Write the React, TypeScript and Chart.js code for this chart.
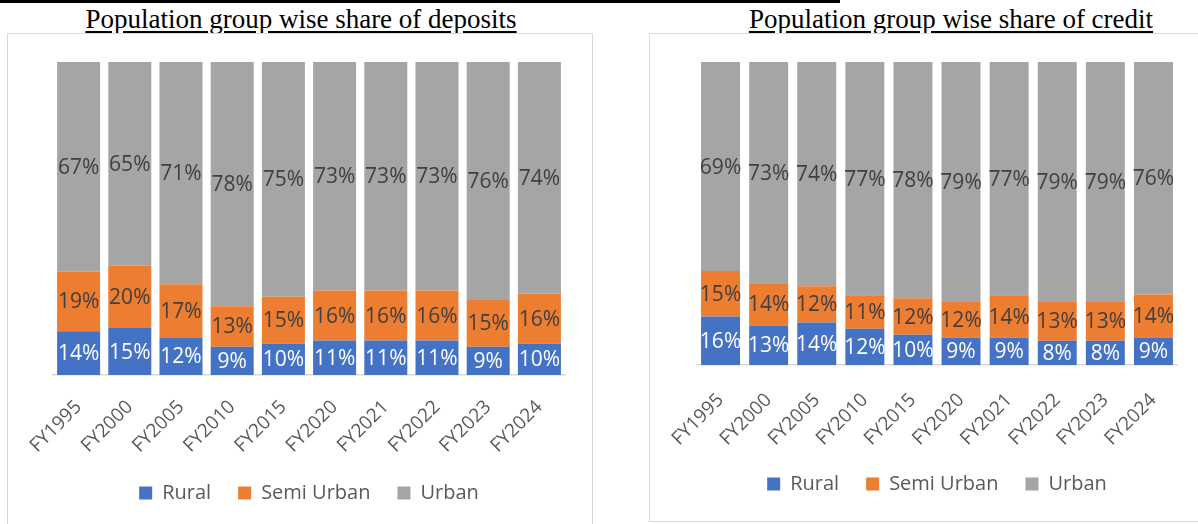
import React, { useEffect, useRef } from "react";
import { Chart, registerables } from "chart.js";

Chart.register(...registerables);

const categories = ["FY1995", "FY2000", "FY2005", "FY2010", "FY2015", "FY2020", "FY2021", "FY2022", "FY2023", "FY2024"];
const seriesNames = ["Rural", "Semi Urban", "Urban"];

const depositRural = [14, 15, 12, 9, 10, 11, 11, 11, 9, 10];
const depositSemiUrban = [19, 20, 17, 13, 15, 16, 16, 16, 15, 16];
const depositUrban = [67, 65, 71, 78, 75, 73, 73, 73, 76, 74];

const creditRural = [16, 13, 14, 12, 10, 9, 9, 8, 8, 9];
const creditSemiUrban = [15, 14, 12, 11, 12, 12, 14, 13, 13, 14];
const creditUrban = [69, 73, 74, 77, 78, 79, 77, 79, 79, 76];

const COLORS = ["#4472C4", "#ED7D31", "#A5A5A5"];
const LABEL_COLORS = ["#FFFFFF", "#404040", "#404040"];
const FONT = "'Open Sans', 'Noto Sans', sans-serif";

const labelPlugin = {
  id: "segLabels",
  afterDatasetsDraw(chart: any) {
    const ctx = chart.ctx;
    ctx.save();
    ctx.font = `21px ${FONT}`;
    ctx.textAlign = "center";
    ctx.textBaseline = "middle";
    chart.data.datasets.forEach((ds: any, di: number) => {
      const meta = chart.getDatasetMeta(di);
      meta.data.forEach((el: any, i: number) => {
        const raw = ds.rawValues[i];
        const cy = (el.y + el.base) / 2;
        ctx.fillStyle = LABEL_COLORS[di];
        ctx.fillText(`${raw}%`, el.x, cy + 1);
      });
    });
    ctx.restore();
  },
};

function buildConfig(series: number[][], barPct: number, padding: any, axisHeight: number, tickPad: number) {
  const totals = categories.map((_, i) => series.reduce((s, arr) => s + arr[i], 0));
  return {
    type: "bar",
    data: {
      labels: categories,
      datasets: series.map((arr, di) => ({
        label: seriesNames[di],
        data: arr.map((v, i) => (v / totals[i]) * 100),
        rawValues: arr,
        backgroundColor: COLORS[di],
        borderWidth: 0,
        barPercentage: barPct,
        categoryPercentage: 1,
      })),
    },
    options: {
      animation: false,
      responsive: false,
      maintainAspectRatio: false,
      layout: { padding },
      plugins: {
        title: { display: false },
        tooltip: { enabled: false },
        legend: {
          position: "bottom",
          labels: {
            boxWidth: 13,
            boxHeight: 13,
            padding: 27,
            color: "#595959",
            font: { family: FONT, size: 20 },
          },
        },
      },
      scales: {
        x: {
          stacked: true,
          grid: { display: false, drawTicks: false },
          border: { display: true, color: "#D9D9D9", width: 1.5 },
          ticks: {
            color: "#595959",
            font: { family: FONT, size: 19 },
            minRotation: 45,
            maxRotation: 45,
            padding: tickPad,
          },
          afterFit(scale: any) {
            scale.height = axisHeight;
          },
        },
        y: {
          stacked: true,
          display: false,
          min: 0,
          max: 100,
        },
      },
    },
    plugins: [labelPlugin],
  };
}

function ChartBox(props: {
  left: number;
  top: number;
  width: number;
  height: number;
  series: number[][];
  barPct: number;
  padding: any;
  axisHeight: number;
  tickPad: number;
}) {
  const ref = useRef<HTMLCanvasElement>(null);
  useEffect(() => {
    if (!ref.current) return;
    const chart = new Chart(
      ref.current,
      buildConfig(props.series, props.barPct, props.padding, props.axisHeight, props.tickPad) as any
    );
    return () => chart.destroy();
  }, []);
  return (
    <div
      style={{
        position: "absolute",
        left: props.left,
        top: props.top,
        width: props.width,
        height: props.height,
        boxSizing: "border-box",
        border: "1.5px solid #D9D9D9",
        background: "#fff",
      }}
    >
      <canvas
        ref={ref}
        width={props.width}
        height={props.height}
        style={{ position: "absolute", left: -1.5, top: -1.5, width: props.width, height: props.height }}
      />
    </div>
  );
}

const titleStyle: React.CSSProperties = {
  position: "absolute",
  top: 4,
  fontFamily: "'Liberation Serif', 'Times New Roman', serif",
  fontSize: 27,
  lineHeight: "30px",
  textDecoration: "underline",
  textUnderlineOffset: 3,
  color: "#000",
  whiteSpace: "nowrap",
  transform: "translateX(-50%)",
};

export default function App() {
  return (
    <div style={{ position: "fixed", left: 0, top: 0, width: 1198, height: 524, overflow: "hidden", background: "#fff" }}>
      <div style={{ position: "absolute", left: 0, top: 0, width: 840, height: 3, background: "#000" }} />
      <div style={{ ...titleStyle, left: 301 }}>Population group wise share of deposits</div>
      <div style={{ ...titleStyle, left: 951 }}>Population group wise share of credit</div>
      <ChartBox
        left={7}
        top={33}
        width={586}
        height={510}
        series={[depositRural, depositSemiUrban, depositUrban]}
        barPct={0.84}
        padding={{ left: 46, right: 28, top: 29, bottom: 30 }}
        axisHeight={81}
        tickPad={21}
      />
      <ChartBox
        left={649}
        top={33}
        width={559}
        height={489}
        series={[creditRural, creditSemiUrban, creditUrban]}
        barPct={0.81}
        padding={{ left: 47.5, right: 30.5, top: 29, bottom: 18 }}
        axisHeight={82}
        tickPad={24}
      />
    </div>
  );
}
